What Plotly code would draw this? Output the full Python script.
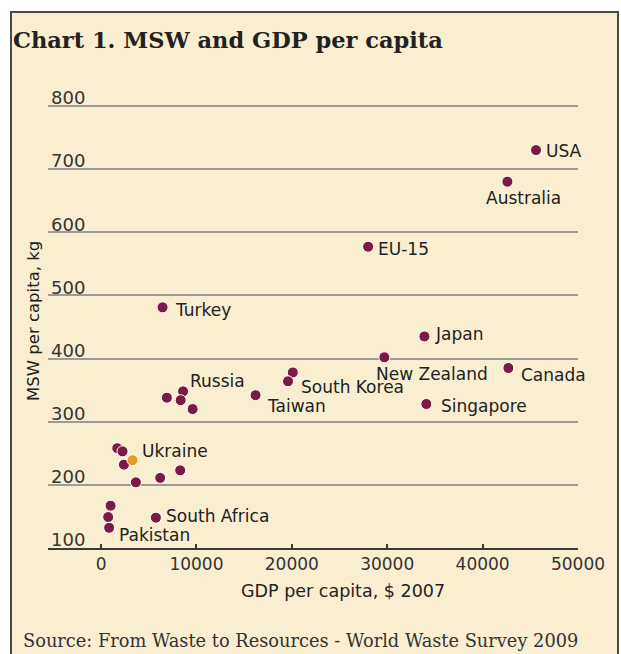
import plotly.graph_objects as go

# ---- data ----
gdp_per_capita = [45600, 42600, 28000, 33900, 29700, 42700, 34100, 20100, 19600, 16200,
                  8600, 6900, 8350, 9600, 6450, 1700, 2250, 2400, 3650, 6200,
                  8300, 1000, 750, 850, 5750]
msw_per_capita = [730, 680, 577, 435, 402, 385, 328, 378, 364, 342,
                  348, 338, 334, 320, 481, 258, 253, 232, 204, 211,
                  223, 167, 149, 132, 148]
country_labels = ["USA", "Australia", "EU-15", "Japan", "New Zealand", "Canada", "Singapore",
                  "South Korea", "", "Taiwan", "Russia", "", "", "", "Turkey",
                  "", "", "", "", "", "", "", "", "Pakistan", "South Africa"]

highlight_gdp = [3300]
highlight_msw = [239]
highlight_labels = ["Ukraine"]

x_ticks = [0, 10000, 20000, 30000, 40000, 50000]
y_ticks = [100, 200, 300, 400, 500, 600, 700, 800]

# ---- style: label offsets in pixels (dx to left edge of text, dy downward) ----
label_offsets = {
    "USA": (10, 1), "Australia": (-21, 16), "EU-15": (10, 2), "Japan": (11, -2),
    "New Zealand": (-8, 17), "Canada": (13, 7), "Singapore": (15, 2),
    "South Korea": (8, 15), "Taiwan": (11, 11), "Russia": (7, -10),
    "Turkey": (12, 3), "Ukraine": (9, -9), "South Africa": (10, -2), "Pakistan": (10, 7),
}

MAROON = "#7a1b45"
ORANGE = "#e29f22"
CREAM = "#f9efd0"
TEXT = "#222222"
SANS = "DejaVu Sans"
SERIF = "DejaVu Serif"

fig = go.Figure()
fig.add_trace(go.Scatter(
    x=gdp_per_capita, y=msw_per_capita, mode="markers",
    marker=dict(size=11, color=MAROON, line=dict(color="white", width=1)),
    hoverinfo="skip", showlegend=False))
fig.add_trace(go.Scatter(
    x=highlight_gdp, y=highlight_msw, mode="markers",
    marker=dict(size=11, color=ORANGE, line=dict(color="white", width=1)),
    hoverinfo="skip", showlegend=False))

annotations = []
for xs, ys, ls in [(gdp_per_capita, msw_per_capita, country_labels),
                   (highlight_gdp, highlight_msw, highlight_labels)]:
    for x, y, lab in zip(xs, ys, ls):
        if not lab:
            continue
        dx, dy = label_offsets[lab]
        annotations.append(dict(
            x=x, y=y, xref="x", yref="y", text=lab, showarrow=False,
            xanchor="left", yanchor="middle", xshift=dx, yshift=-dy,
            borderpad=0, borderwidth=0,
            font=dict(family=SANS, size=17, color=TEXT)))

W, H = 621, 654
ML, MR, MT, MB = 48, 43, 104, 106
pw, ph = W - ML - MR, H - MT - MB


def px_to_paper_x(px):
    return (px - ML) / pw


def px_to_paper_y(py):
    return (H - MB - py) / ph


# axis titles and source
annotations.append(dict(
    x=px_to_paper_x(343), y=px_to_paper_y(591), xref="paper", yref="paper",
    text="GDP per capita, $ 2007",
    showarrow=False, xanchor="center", yanchor="middle",
    font=dict(family=SANS, size=17.5, color=TEXT)))
annotations.append(dict(
    x=px_to_paper_x(33), y=px_to_paper_y(321), xref="paper", yref="paper",
    text="MSW per capita, kg",
    showarrow=False, xanchor="center", yanchor="middle", textangle=-90,
    font=dict(family=SANS, size=16.5, color=TEXT)))
annotations.append(dict(
    x=px_to_paper_x(21), y=px_to_paper_y(640), xref="paper", yref="paper",
    text="Source: From Waste to Resources - World Waste Survey 2009",
    showarrow=False, xanchor="left", yanchor="middle",
    font=dict(family=SERIF, size=17.8, color="#333333")))

fig.add_shape(type="rect", xref="paper", yref="paper", layer="below",
              x0=px_to_paper_x(11), x1=px_to_paper_x(618),
              y0=px_to_paper_y(664), y1=px_to_paper_y(12),
              fillcolor=CREAM, line=dict(color="#4a4a48", width=2))

fig.update_layout(
    width=W, height=H,
    margin=dict(l=ML, r=MR, t=MT, b=MB, pad=0),
    paper_bgcolor="white", plot_bgcolor="rgba(0,0,0,0)",
    title=dict(text="<b>Chart 1. MSW and GDP per capita</b>", xref="container", yref="container",
               x=13 / W, y=1 - 40 / H, xanchor="left", yanchor="middle",
               font=dict(family=SERIF, size=22.5, color=TEXT)),
    annotations=annotations,
    showlegend=False,
)
fig.update_xaxes(
    range=[-5560, 50000], tickvals=x_ticks, ticktext=[str(v) for v in x_ticks],
    showgrid=False, zeroline=False, showline=True, linecolor="#3a3a3a", linewidth=1.5,
    ticks="inside", ticklen=4, tickwidth=1.5, tickcolor="#3a3a3a",
    tickfont=dict(family=SANS, size=17, color="#333333"),
)
fig.update_yaxes(
    range=[100, 803], tickvals=y_ticks, ticktext=[str(v) for v in y_ticks],
    showgrid=True, gridcolor="#9c9b95", gridwidth=1.5, zeroline=False, showline=False,
    ticks="", ticklabelposition="inside", ticklabelshift=-8, ticklabelstandoff=0,
    ticklabeloverflow="allow",
    tickfont=dict(family=SANS, size=18, color="#333333"),
)

fig.write_html("out.html", config={"displayModeBar": False},
               post_script="document.body.style.margin='0';")
